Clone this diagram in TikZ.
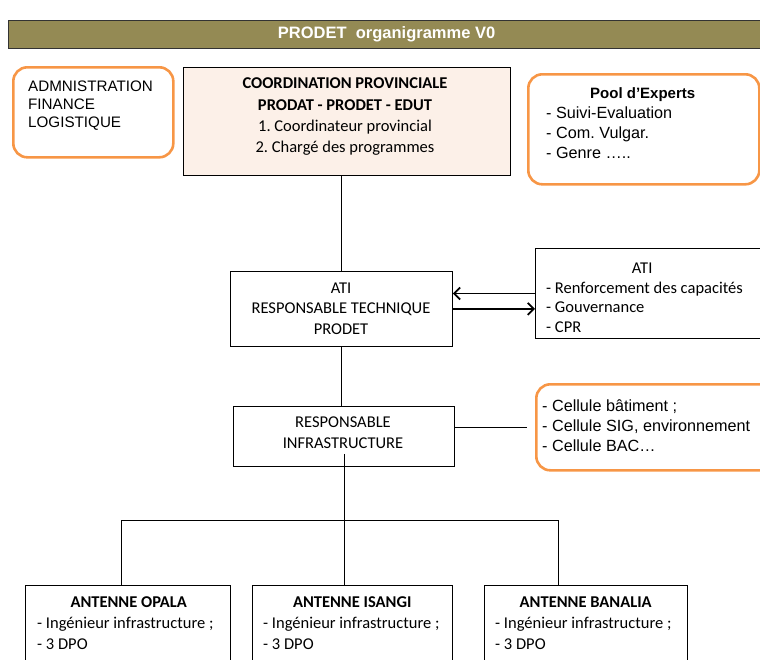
\documentclass[tikz,border=0pt]{standalone}
\usepackage{fontspec}
\setmainfont{Carlito}
\newfontfamily\arialfont{Liberation Sans}
\usetikzlibrary{arrows.meta}
\definecolor{olivebar}{HTML}{948A54}
\definecolor{peach}{HTML}{FCF0E8}
\definecolor{orangeline}{HTML}{F79646}
\frenchspacing

\begin{document}
\begin{tikzpicture}[x=1pt,y=-1pt,
  frame/.style={draw=black,line width=0.9pt,inner sep=0pt,anchor=north west},
  softframe/.style={draw=orangeline,line width=2.6pt,rounded corners=14pt,inner sep=0pt,anchor=north west},
  calibri/.style={inner sep=0pt,font=\fontsize{16.5}{21}\selectfont},
  arial/.style={inner sep=0pt,font=\arialfont\fontsize{16.2}{20}\selectfont},
  link/.style={line width=0.9pt},
  twoway/.style={line width=1.8pt,-{Straight Barb[length=6pt,width=12pt]}}]

\useasboundingbox (0,0) rectangle (760,659);
\clip (0,0) rectangle (760,659);

%title
\node[frame,fill=olivebar,draw=black!80,line width=1.2pt,minimum width=756pt,minimum height=28pt,
  text=white,font=\arialfont\bfseries\fontsize{16.5}{18}\selectfont] (title) at (8,20) {PRODET\ \ organigramme V0};

%admin
\node[softframe,minimum width=160pt,minimum height=90pt] (admin) at (12,66) {};
\node[arial,anchor=north west,align=left,font=\arialfont\fontsize{15.2}{18}\selectfont] (admin-t) at (28,80.5)
  {ADMNISTRATION\\FINANCE\\LOGISTIQUE};

%coordination
\node[frame,fill=peach,minimum width=327pt,minimum height=108pt] (coord) at (183,67) {};
\node[calibri,anchor=north,align=center,font=\fontsize{16.5}{21.3}\selectfont] (coord-t) at (345,77.7)
  {\textbf{COORDINATION PROVINCIALE}\\\textbf{PRODAT - PRODET - EDUT}\\1. Coordinateur provincial\\2. Chargé des programmes};

%pool
\node[softframe,minimum width=231pt,minimum height=110pt] (pool) at (527,73) {};
\node[arial,anchor=north west,align=left] (pool-t) at (546,87.3)
  {\makebox[193pt]{\bfseries\fontsize{15}{20}\selectfont Pool d’Experts}\\- Suivi-Evaluation\\- Com. Vulgar.\\- Genre …..};

%ati
\node[frame,minimum width=222pt,minimum height=75pt] (ati) at (230,271) {};
\node[calibri,anchor=north,align=center,font=\fontsize{16.5}{20.5}\selectfont] (ati-t) at (341,282.7)
  {ATI\\RESPONSABLE TECHNIQUE\\PRODET};

%ati side
\node[frame,minimum width=240pt,minimum height=90pt] (atiside) at (535,248) {};
\node[calibri,anchor=north west,align=left,font=\fontsize{16.5}{19.7}\selectfont] (atiside-t) at (546,262.7)
  {\makebox[192pt]{ATI}\\- Renforcement des capacités\\- Gouvernance\\- CPR};

%infra
\node[frame,minimum width=221pt,minimum height=60pt] (infra) at (233,406) {};
\node[calibri,anchor=north,align=center] (infra-t) at (343,416.7)
  {RESPONSABLE\\INFRASTRUCTURE};

%cells
\node[softframe,minimum width=240pt,minimum height=86pt] (cells) at (535,383) {};
\node[arial,anchor=north west,align=left] (cells-t) at (542,399)
  {- Cellule bâtiment ;\\- Cellule SIG, environnement\\- Cellule BAC…};

%antennas
\node[frame,minimum width=205pt,minimum height=100pt] (opala) at (25,585) {};
\node[calibri,anchor=north west,align=left] (opala-t) at (37,596.7)
  {\makebox[183pt]{\bfseries ANTENNE OPALA}\\- Ingénieur infrastructure ;\\- 3 DPO};
\node[frame,minimum width=200pt,minimum height=100pt] (isangi) at (252,585) {};
\node[calibri,anchor=north west,align=left] (isangi-t) at (263,596.7)
  {\makebox[178pt]{\bfseries ANTENNE ISANGI}\\- Ingénieur infrastructure ;\\- 3 DPO};
\node[frame,minimum width=203pt,minimum height=100pt] (banalia) at (484,585) {};
\node[calibri,anchor=north west,align=left] (banalia-t) at (495,596.7)
  {\makebox[181pt]{\bfseries ANTENNE BANALIA}\\- Ingénieur infrastructure ;\\- 3 DPO};

%links
\draw[link] (coord.south -| ati.north) -- (ati.north);
\draw[link] (ati.south) -- (ati.south |- infra.north);
\draw[twoway] (atiside.west) -- (atiside.west -| ati.east);
\draw[twoway] (ati.east) -- (ati.east -| atiside.west);
\draw[link] (infra.east |- cells.west) -- ([xshift=-8pt]cells.west);

%bus
\coordinate (busL) at (121,520);
\coordinate (busR) at (558,520);
\draw[link] (opala.north -| busL) -- (busL) -- (busR) -- (banalia.north -| busR);
\draw[link] ([yshift=13pt]infra.south) -- (infra.south |- isangi.north);
\end{tikzpicture}
\end{document}
